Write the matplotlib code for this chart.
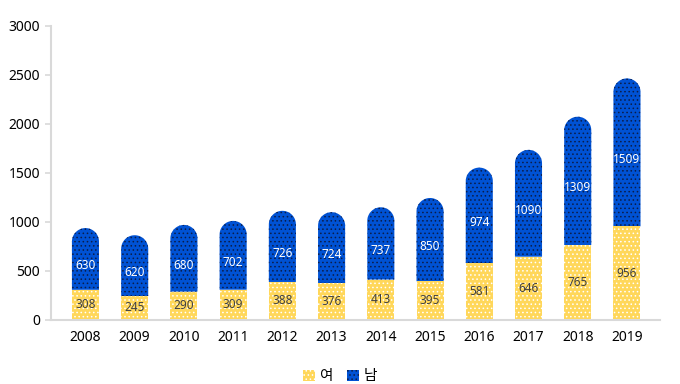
import numpy as np
import matplotlib.pyplot as plt
from matplotlib.patches import Polygon, Patch

plt.rcParams['font.family'] = ['Noto Sans', 'Noto Sans CJK KR', 'DejaVu Sans']
plt.rcParams['hatch.linewidth'] = 0.6

years = ['2008', '2009', '2010', '2011', '2012', '2013', '2014', '2015',
         '2016', '2017', '2018', '2019']
female = [308, 245, 290, 309, 388, 376, 413, 395, 581, 646, 765, 956]
male = [630, 620, 680, 702, 726, 724, 737, 850, 974, 1090, 1309, 1509]
labels = ['여', '남']

yellow = '#FFD75A'
blue = '#0052D4'
dot_dark = '#0b1d4a'

fig = plt.figure(figsize=(6.8, 3.84), dpi=100)
ax = fig.add_axes([0.075, 0.1667, 0.8955, 0.7656])

x = np.arange(len(years))
width = 0.55
xlim = (-0.7, 11.67)
ylim = (0, 3000)
ax.set_xlim(*xlim)
ax.set_ylim(*ylim)

# y units per x unit on screen, so the rounded cap is a half circle
pos = ax.get_position()
w_px = pos.width * 680
h_px = pos.height * 384
aspect = (ylim[1] - ylim[0]) / h_px * w_px / (xlim[1] - xlim[0])
r = width / 2
ry = r * aspect
theta = np.linspace(0, np.pi, 40)

for xi, f, m in zip(x, female, male):
    total = f + m
    cap_x = xi + r * np.cos(theta)
    cap_y = total - ry + ry * np.sin(theta)
    verts = np.column_stack([
        np.concatenate([[xi - r, xi + r], cap_x]),
        np.concatenate([[f, f], cap_y]),
    ])
    ax.add_patch(Polygon(verts, closed=True, facecolor=blue,
                         edgecolor=dot_dark, linewidth=0, hatch='....'))
    ax.bar(xi, f, width, color=yellow, edgecolor='white', linewidth=0,
           hatch='....')
    ax.text(xi, f / 2, str(f), ha='center', va='center', fontsize=8.5,
            color='#404040')
    ax.text(xi, (f + total - ry) / 2, str(m), ha='center',
            va='center', fontsize=8.5, color='white')

ax.set_xticks(x)
ax.set_xticklabels(years)
ax.set_yticks(np.arange(0, 3001, 500))
for s in ['top', 'right']:
    ax.spines[s].set_visible(False)
for s in ['left', 'bottom']:
    ax.spines[s].set_color('#D9D9D9')
    ax.spines[s].set_linewidth(1.5)
ax.tick_params(axis='x', length=0, pad=7, labelsize=10, colors='#000000')
ax.tick_params(axis='y', length=4, width=1.2, color='#D9D9D9', pad=4,
               labelsize=10, labelcolor='#000000')

handles = [Patch(facecolor=yellow, edgecolor='white', linewidth=0, hatch='....'),
           Patch(facecolor=blue, edgecolor=dot_dark, linewidth=0, hatch='....')]
fig.legend(handles, labels, loc='lower center', bbox_to_anchor=(0.5, -0.035),
           ncol=2, frameon=False, handlelength=0.8, handleheight=0.8,
           handletextpad=0.3, columnspacing=1.0, fontsize=10.5)

fig.savefig('out.png', dpi=100)
